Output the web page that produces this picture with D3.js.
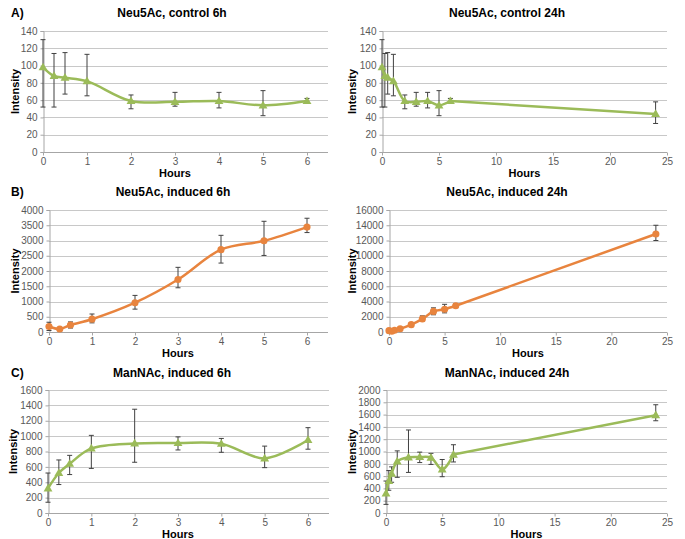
<!DOCTYPE html>
<html><head><meta charset="utf-8">
<script src="https://cdn.jsdelivr.net/npm/d3@7"></script>
<style>
body{margin:0;background:#fff;}
svg text{font-family:"Liberation Sans",Arial,sans-serif;}
</style></head>
<body><svg id="c" width="685" height="539"></svg>
<script>
// ---- data ----
const hours = [0, 0.25, 0.5, 1, 2, 3, 4, 5, 6, 24];

const ctrlMean = [98, 88, 86, 82, 59, 58, 59, 54, 59, 44];
const ctrlLow  = [52, 52, 67, 65, 50, 53, 51, 42, 57, 33];
const ctrlHigh = [130, 114, 115, 113, 66, 69, 69, 71, 62, 58];

const indMean = [180, 100, 230, 420, 960, 1720, 2700, 2990, 3440, 12850];
const indLow  = [50, 90, 130, 300, 750, 1450, 2260, 2510, 3260, 12000];
const indHigh = [320, 110, 330, 590, 1200, 2120, 3170, 3630, 3730, 14000];

const manMean = [320, 520, 640, 840, 905, 910, 900, 710, 950, 1590];
const manLow  = [140, 370, 500, 580, 660, 820, 790, 590, 830, 1500];
const manHigh = [520, 690, 750, 1010, 1350, 990, 970, 870, 1110, 1760];

const ticks6 = [0, 1, 2, 3, 4, 5, 6];
const ticks24 = [0, 5, 10, 15, 20, 25];
const yTicksCtrl = [0, 20, 40, 60, 80, 100, 120, 140];
const yTicksInd6 = [0, 500, 1000, 1500, 2000, 2500, 3000, 3500, 4000];
const yTicksInd24 = [0, 2000, 4000, 6000, 8000, 10000, 12000, 14000, 16000];
const yTicksMan6 = [0, 200, 400, 600, 800, 1000, 1200, 1400, 1600];
const yTicksMan24 = [0, 200, 400, 600, 800, 1000, 1200, 1400, 1600, 1800, 2000];

const titles = ["Neu5Ac, control 6h", "Neu5Ac, control 24h", "Neu5Ac, induced 6h",
                "Neu5Ac, induced 24h", "ManNAc, induced 6h", "ManNAc, induced 24h"];
const rowLabels = ["A)", "B)", "C)"];

const GREEN = "#9BBB59", ORANGE = "#E8843E";

// ---- layout (positions only) ----
const panels = [
  {t:0, n:9, mean:ctrlMean, lo:ctrlLow, hi:ctrlHigh, xt:ticks6, yt:yTicksCtrl, xd:[0,6], x0:43, x1:307, xe:328, y0:152, y1:31, col:GREEN, mk:"tri", tx:172, ty:13, lab:0, ix:15},
  {t:1, n:10, mean:ctrlMean, lo:ctrlLow, hi:ctrlHigh, xt:ticks24, yt:yTicksCtrl, xd:[0,25], x0:382, x1:667, xe:667, y0:152, y1:31, col:GREEN, mk:"tri", tx:507, ty:13, ix:352},
  {t:2, n:9, mean:indMean, lo:indLow, hi:indHigh, xt:ticks6, yt:yTicksInd6, xd:[0,6], x0:49, x1:307, xe:328, y0:332, y1:210, col:ORANGE, mk:"dot", tx:173, ty:192, lab:1, ix:15},
  {t:3, n:10, mean:indMean, lo:indLow, hi:indHigh, xt:ticks24, yt:yTicksInd24, xd:[0,25], x0:389, x1:667, xe:667, y0:332, y1:210, col:ORANGE, mk:"dot", tx:507, ty:192, ix:352},
  {t:4, n:9, mean:manMean, lo:manLow, hi:manHigh, xt:ticks6, yt:yTicksMan6, xd:[0,6], x0:48, x1:308, xe:329, y0:513, y1:390, col:GREEN, mk:"tri", tx:172, ty:373, lab:2, ix:13},
  {t:5, n:10, mean:manMean, lo:manLow, hi:manHigh, xt:ticks24, yt:yTicksMan24, xd:[0,25], x0:386, x1:667, xe:667, y0:513, y1:390, col:GREEN, mk:"tri", tx:507, ty:373, ix:352}
];

const svg = d3.select("#c");

panels.forEach(p => {
  const g = svg.append("g");
  const x = d3.scaleLinear().domain(p.xd).range([p.x0, p.x1]);
  const yMax = p.yt[p.yt.length - 1];
  const y = d3.scaleLinear().domain([0, yMax]).range([p.y0, p.y1]);
  const pts = hours.slice(0, p.n).map((h, i) => ({h, m:p.mean[i], lo:p.lo[i], hi:p.hi[i]}));

  // gridlines
  g.selectAll("line.grid").data(p.yt.filter(v => v > 0)).join("line")
    .attr("x1", p.x0).attr("x2", p.xe)
    .attr("y1", d => Math.round(y(d)) + 0.5).attr("y2", d => Math.round(y(d)) + 0.5)
    .attr("stroke", "#C8C8C8").attr("stroke-width", 1);

  // y axis
  const ya = g.append("g").attr("transform", `translate(${p.x0 + 0.5},0)`)
    .call(d3.axisLeft(y).tickValues(p.yt).tickSize(3).tickPadding(3).tickFormat(d3.format("d")));
  ya.select(".domain").attr("stroke", "#A6A6A6");
  ya.selectAll(".tick line").attr("stroke", "#A6A6A6");
  ya.selectAll(".tick text").attr("fill", "#595959").attr("font-size", 10);

  // x axis
  const xa = g.append("g").attr("transform", `translate(0,${Math.round(p.y0) + 0.5})`)
    .call(d3.axisBottom(x).tickValues(p.xt).tickSize(3).tickPadding(2).tickFormat(d3.format("d")));
  xa.select(".domain").attr("stroke", "#A6A6A6").attr("d", `M${p.x0},0H${p.xe}`);
  xa.selectAll(".tick line").attr("stroke", "#A6A6A6");
  xa.selectAll(".tick text").attr("fill", "#595959").attr("font-size", 10);

  // error bars
  const eb = g.selectAll("g.eb").data(pts).join("g");
  eb.append("line").attr("x1", d => x(d.h)).attr("x2", d => x(d.h))
    .attr("y1", d => y(d.lo)).attr("y2", d => y(d.hi)).attr("stroke", "#404040").attr("stroke-width", 1);
  eb.append("line").attr("x1", d => x(d.h) - 2.5).attr("x2", d => x(d.h) + 2.5)
    .attr("y1", d => y(d.lo)).attr("y2", d => y(d.lo)).attr("stroke", "#404040").attr("stroke-width", 1);
  eb.append("line").attr("x1", d => x(d.h) - 2.5).attr("x2", d => x(d.h) + 2.5)
    .attr("y1", d => y(d.hi)).attr("y2", d => y(d.hi)).attr("stroke", "#404040").attr("stroke-width", 1);

  // line: smoothed over the 0–6 h points, straight to the 24 h point
  const smooth = d3.line().x(d => x(d.h)).y(d => y(d.m)).curve(d3.curveCatmullRom.alpha(0.5));
  const straight = d3.line().x(d => x(d.h)).y(d => y(d.m));
  const first = pts.slice(0, 9);
  let dPath = smooth(first);
  if (pts.length > 9) dPath += straight(pts.slice(8)).replace(/^M[^L]*/, "");
  g.append("path").attr("d", dPath).attr("fill", "none")
    .attr("stroke", p.col).attr("stroke-width", 2.5).attr("stroke-linejoin", "round");

  // markers
  const sym = d3.symbol().type(p.mk === "tri" ? d3.symbolTriangle : d3.symbolCircle).size(p.mk === "tri" ? 34 : 40);
  g.selectAll("path.mk").data(pts).join("path")
    .attr("transform", d => `translate(${x(d.h)},${y(d.m) + (p.mk === "tri" ? 0.5 : 0)})`)
    .attr("d", sym).attr("fill", p.col);

  // title
  g.append("text").attr("x", p.tx).attr("y", p.ty + 4).attr("text-anchor", "middle")
    .attr("font-size", 12).attr("font-weight", "bold").attr("fill", "#000").text(titles[p.t]);
  if (p.lab !== undefined) {
    g.append("text").attr("x", 11).attr("y", p.ty + 4).attr("font-size", 12)
      .attr("font-weight", "bold").attr("fill", "#000").text(rowLabels[p.lab]);
  }
  // axis labels
  g.append("text").attr("x", (p.x0 + p.x1) / 2).attr("y", p.y0 + 25).attr("text-anchor", "middle")
    .attr("font-size", 11).attr("font-weight", "bold").attr("fill", "#000").text("Hours");
  g.append("text").attr("transform", `translate(${p.ix + 4},${(p.y0 + p.y1) / 2}) rotate(-90)`)
    .attr("text-anchor", "middle").attr("font-size", 11).attr("font-weight", "bold").attr("fill", "#000").text("Intensity");
});
</script></body></html>
